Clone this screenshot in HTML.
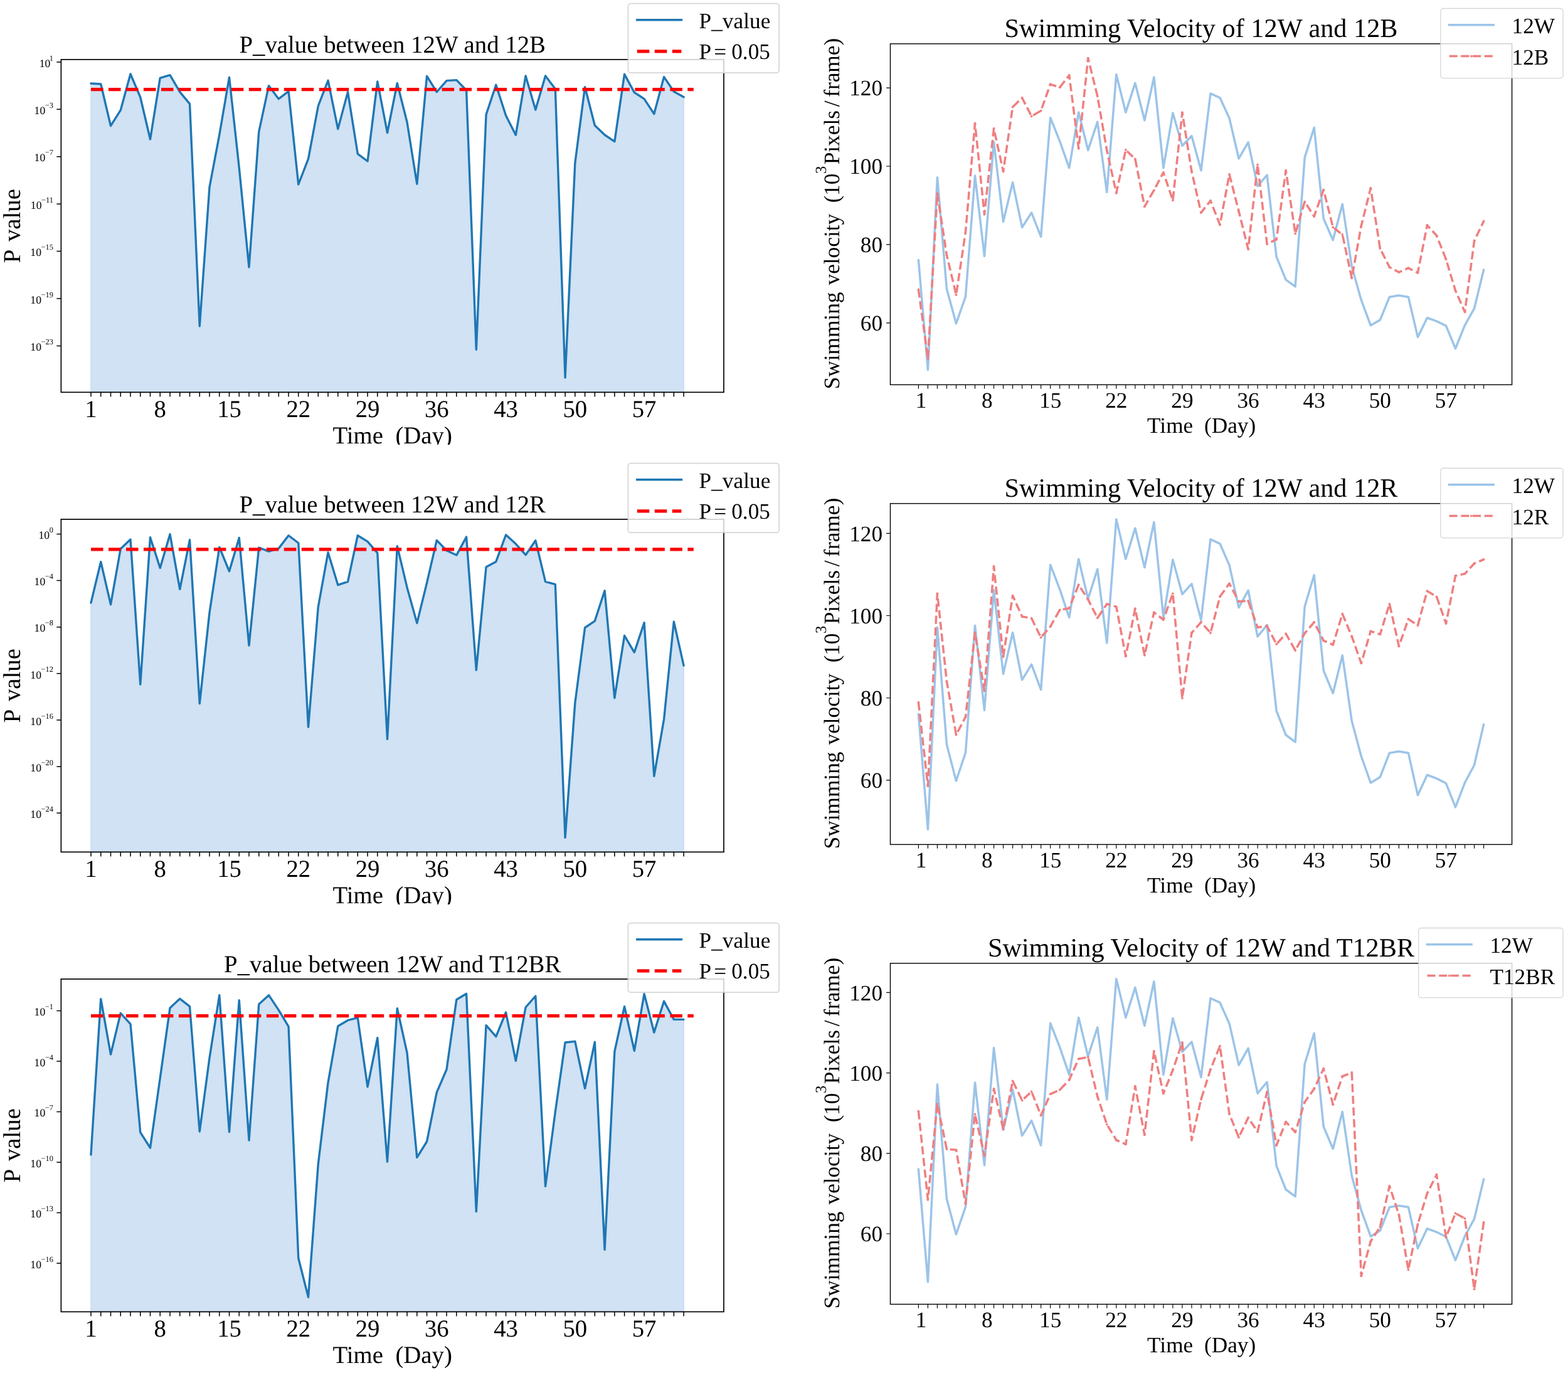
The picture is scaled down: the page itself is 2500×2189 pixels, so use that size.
<!DOCTYPE html>
<html lang="en"><head><meta charset="utf-8"><title>P value and swimming velocity</title>
<style>
html,body{margin:0;padding:0;background:#fff}
body{width:2500px;height:2189px;overflow:hidden}
svg{display:block}
svg text{font-family:"Liberation Serif", serif;fill:#000;text-rendering:geometricPrecision}
</style></head>
<body>
<svg width="2500" height="2189" viewBox="0 0 2500 2189">
<rect width="2500" height="2189" fill="#fff"/>
<g id="L0">
<polygon points="145,625.4 145,133 160.75,134 176.5,200.67 192.26,175.67 208.01,118 223.76,155 239.51,222 255.26,124.33 271.02,119.67 286.77,146.67 302.52,165.67 318.27,520 334.02,298.33 349.78,215 365.53,123.33 381.28,267.33 397.03,426 412.78,210 428.54,136.67 444.29,157.67 460.04,145.67 475.79,294 491.54,253.33 507.3,169 523.05,128.33 538.8,205.67 554.55,146.67 570.3,245.33 586.06,257 601.81,130 617.56,211.67 633.31,132.67 649.06,195 664.82,293.33 680.57,121.33 696.32,146.67 712.07,128.67 727.82,127.67 743.58,144 759.33,557.33 775.08,182.67 790.83,135.33 806.58,184.33 822.34,215.33 838.09,121 853.84,175 869.59,121 885.34,141.67 901.1,602 916.85,260 932.6,138.67 948.35,200 964.1,215 979.86,225.67 995.61,118.33 1011.36,147.33 1027.11,157.67 1042.86,181.67 1058.62,122.67 1074.37,146 1090.12,154.67 1090.12,625.4" fill="#d0e2f4" stroke="#c8dcf4" stroke-width="1.6"/>
<polyline points="145,133 160.75,134 176.5,200.67 192.26,175.67 208.01,118 223.76,155 239.51,222 255.26,124.33 271.02,119.67 286.77,146.67 302.52,165.67 318.27,520 334.02,298.33 349.78,215 365.53,123.33 381.28,267.33 397.03,426 412.78,210 428.54,136.67 444.29,157.67 460.04,145.67 475.79,294 491.54,253.33 507.3,169 523.05,128.33 538.8,205.67 554.55,146.67 570.3,245.33 586.06,257 601.81,130 617.56,211.67 633.31,132.67 649.06,195 664.82,293.33 680.57,121.33 696.32,146.67 712.07,128.67 727.82,127.67 743.58,144 759.33,557.33 775.08,182.67 790.83,135.33 806.58,184.33 822.34,215.33 838.09,121 853.84,175 869.59,121 885.34,141.67 901.1,602 916.85,260 932.6,138.67 948.35,200 964.1,215 979.86,225.67 995.61,118.33 1011.36,147.33 1027.11,157.67 1042.86,181.67 1058.62,122.67 1074.37,146 1090.12,154.67" fill="none" stroke="#1f77b4" stroke-width="3.4" stroke-linejoin="round" stroke-linecap="round"/>
<path d="M145 142.6H1105.87" stroke="#fa0506" stroke-width="5.3" stroke-dasharray="19.55 8.43" fill="none"/>
<rect x="97.4" y="94.9" width="1056.6" height="530.5" fill="none" stroke="#000" stroke-width="1.7"/>
<path d="M145 625.4v7.05M160.75 625.4v7.05M176.5 625.4v7.05M192.26 625.4v7.05M208.01 625.4v7.05M223.76 625.4v7.05M239.51 625.4v7.05M255.26 625.4v7.05M271.02 625.4v7.05M286.77 625.4v7.05M302.52 625.4v7.05M318.27 625.4v7.05M334.02 625.4v7.05M349.78 625.4v7.05M365.53 625.4v7.05M381.28 625.4v7.05M397.03 625.4v7.05M412.78 625.4v7.05M428.54 625.4v7.05M444.29 625.4v7.05M460.04 625.4v7.05M475.79 625.4v7.05M491.54 625.4v7.05M507.3 625.4v7.05M523.05 625.4v7.05M538.8 625.4v7.05M554.55 625.4v7.05M570.3 625.4v7.05M586.06 625.4v7.05M601.81 625.4v7.05M617.56 625.4v7.05M633.31 625.4v7.05M649.06 625.4v7.05M664.82 625.4v7.05M680.57 625.4v7.05M696.32 625.4v7.05M712.07 625.4v7.05M727.82 625.4v7.05M743.58 625.4v7.05M759.33 625.4v7.05M775.08 625.4v7.05M790.83 625.4v7.05M806.58 625.4v7.05M822.34 625.4v7.05M838.09 625.4v7.05M853.84 625.4v7.05M869.59 625.4v7.05M885.34 625.4v7.05M901.1 625.4v7.05M916.85 625.4v7.05M932.6 625.4v7.05M948.35 625.4v7.05M964.1 625.4v7.05M979.86 625.4v7.05M995.61 625.4v7.05M1011.36 625.4v7.05M1027.11 625.4v7.05M1042.86 625.4v7.05M1058.62 625.4v7.05M1074.37 625.4v7.05M1090.12 625.4v7.05" stroke="#000" stroke-width="1.5" fill="none"/>
<text x="145" y="664.8" font-size="38.8" text-anchor="middle" >1</text>
<text x="255.26" y="664.8" font-size="38.8" text-anchor="middle" >8</text>
<text x="365.53" y="664.8" font-size="38.8" text-anchor="middle" >15</text>
<text x="475.79" y="664.8" font-size="38.8" text-anchor="middle" >22</text>
<text x="586.06" y="664.8" font-size="38.8" text-anchor="middle" >29</text>
<text x="696.32" y="664.8" font-size="38.8" text-anchor="middle" >36</text>
<text x="806.58" y="664.8" font-size="38.8" text-anchor="middle" >43</text>
<text x="916.85" y="664.8" font-size="38.8" text-anchor="middle" >50</text>
<text x="1027.11" y="664.8" font-size="38.8" text-anchor="middle" >57</text>
<path d="M97.4 99.1h-7.05M97.4 174.3h-7.05M97.4 249.7h-7.05M97.4 325.2h-7.05M97.4 400.6h-7.05M97.4 476h-7.05M97.4 551.4h-7.05" stroke="#000" stroke-width="1.5" fill="none"/>
<text x="85.0" y="106.8" font-size="17.65" text-anchor="end">10<tspan dy="-10.1" dx="-1.5" font-size="12.4">1</tspan></text>
<text x="85.0" y="182" font-size="17.65" text-anchor="end">10<tspan dy="-10.1" dx="-0.4" font-size="12.4">−3</tspan></text>
<text x="85.0" y="257.4" font-size="17.65" text-anchor="end">10<tspan dy="-10.1" dx="-0.4" font-size="12.4">−7</tspan></text>
<text x="85.0" y="332.9" font-size="17.65" text-anchor="end">10<tspan dy="-10.1" dx="-0.4" font-size="12.4">−11</tspan></text>
<text x="85.0" y="408.3" font-size="17.65" text-anchor="end">10<tspan dy="-10.1" dx="-0.4" font-size="12.4">−15</tspan></text>
<text x="85.0" y="483.7" font-size="17.65" text-anchor="end">10<tspan dy="-10.1" dx="-0.4" font-size="12.4">−19</tspan></text>
<text x="85.0" y="559.1" font-size="17.65" text-anchor="end">10<tspan dy="-10.1" dx="-0.4" font-size="12.4">−23</tspan></text>
<text x="625.7" y="83.6" font-size="38.8" text-anchor="middle" >P_value between 12W and 12B</text>
<clipPath id="clipL0"><rect x="0" y="0" width="1260" height="708.9"/></clipPath>
<g clip-path="url(#clipL0)">
<text x="625.7" y="707.2" font-size="38.8" text-anchor="middle" xml:space="preserve">Time  (Day)</text>
</g>
<text transform="translate(32.2 360.15) rotate(-90)" font-size="38.8" text-anchor="middle" word-spacing="4.3">P value</text>
<rect x="1001.4" y="5.6" width="240.8" height="110.6" rx="4.5" ry="4.5" fill="#fff" fill-opacity="0.8" stroke="#ccc" stroke-opacity="0.8" stroke-width="1.8"/>
<path d="M1015.8 31.7H1086.4" stroke="#1f77b4" stroke-width="3.53" stroke-linecap="square" fill="none"/>
<path d="M1015.8 81.8H1086.4" stroke="#fa0506" stroke-width="5.3" stroke-dasharray="19.55 8.43" fill="none"/>
<text x="1114.6" y="44.7" font-size="35.3">P_value</text>
<text x="1114.6" y="94.1" font-size="35.3" xml:space="preserve">P <tspan dx="-3.4">=</tspan> <tspan dx="-0.9">0.05</tspan></text>
</g>
<g id="L1">
<polygon points="145,1358.4 145,961.07 160.75,895.73 176.5,963.73 192.26,875.07 208.01,860.07 223.76,1091.07 239.51,856.73 255.26,905.4 271.02,851.73 286.77,939.4 302.52,860.73 318.27,1121.73 334.02,976.73 349.78,872.4 365.53,910.73 381.28,857.4 397.03,1029.07 412.78,873.07 428.54,879.07 444.29,874.4 460.04,853.73 475.79,865.73 491.54,1159.07 507.3,967.73 523.05,880.73 538.8,932.73 554.55,927.4 570.3,853.73 586.06,863.4 601.81,881.73 617.56,1178.4 633.31,870.73 649.06,936.73 664.82,993.4 680.57,929.4 696.32,861.4 712.07,877.73 727.82,885.07 743.58,856.07 759.33,1068.4 775.08,904.07 790.83,895.4 806.58,852.73 822.34,867.07 838.09,884.73 853.84,861.73 869.59,927.4 885.34,931.73 901.1,1335.4 916.85,1120.73 932.6,1000.73 948.35,990.07 964.1,941.73 979.86,1112.73 995.61,1013.4 1011.36,1040.07 1027.11,992.73 1042.86,1237.4 1058.62,1146.73 1074.37,991.07 1090.12,1061.07 1090.12,1358.4" fill="#d0e2f4" stroke="#c8dcf4" stroke-width="1.6"/>
<polyline points="145,961.07 160.75,895.73 176.5,963.73 192.26,875.07 208.01,860.07 223.76,1091.07 239.51,856.73 255.26,905.4 271.02,851.73 286.77,939.4 302.52,860.73 318.27,1121.73 334.02,976.73 349.78,872.4 365.53,910.73 381.28,857.4 397.03,1029.07 412.78,873.07 428.54,879.07 444.29,874.4 460.04,853.73 475.79,865.73 491.54,1159.07 507.3,967.73 523.05,880.73 538.8,932.73 554.55,927.4 570.3,853.73 586.06,863.4 601.81,881.73 617.56,1178.4 633.31,870.73 649.06,936.73 664.82,993.4 680.57,929.4 696.32,861.4 712.07,877.73 727.82,885.07 743.58,856.07 759.33,1068.4 775.08,904.07 790.83,895.4 806.58,852.73 822.34,867.07 838.09,884.73 853.84,861.73 869.59,927.4 885.34,931.73 901.1,1335.4 916.85,1120.73 932.6,1000.73 948.35,990.07 964.1,941.73 979.86,1112.73 995.61,1013.4 1011.36,1040.07 1027.11,992.73 1042.86,1237.4 1058.62,1146.73 1074.37,991.07 1090.12,1061.07" fill="none" stroke="#1f77b4" stroke-width="3.4" stroke-linejoin="round" stroke-linecap="round"/>
<path d="M145 875.9H1105.87" stroke="#fa0506" stroke-width="5.3" stroke-dasharray="19.55 8.43" fill="none"/>
<rect x="97.4" y="827.9" width="1056.6" height="530.5" fill="none" stroke="#000" stroke-width="1.7"/>
<path d="M145 1358.4v7.05M160.75 1358.4v7.05M176.5 1358.4v7.05M192.26 1358.4v7.05M208.01 1358.4v7.05M223.76 1358.4v7.05M239.51 1358.4v7.05M255.26 1358.4v7.05M271.02 1358.4v7.05M286.77 1358.4v7.05M302.52 1358.4v7.05M318.27 1358.4v7.05M334.02 1358.4v7.05M349.78 1358.4v7.05M365.53 1358.4v7.05M381.28 1358.4v7.05M397.03 1358.4v7.05M412.78 1358.4v7.05M428.54 1358.4v7.05M444.29 1358.4v7.05M460.04 1358.4v7.05M475.79 1358.4v7.05M491.54 1358.4v7.05M507.3 1358.4v7.05M523.05 1358.4v7.05M538.8 1358.4v7.05M554.55 1358.4v7.05M570.3 1358.4v7.05M586.06 1358.4v7.05M601.81 1358.4v7.05M617.56 1358.4v7.05M633.31 1358.4v7.05M649.06 1358.4v7.05M664.82 1358.4v7.05M680.57 1358.4v7.05M696.32 1358.4v7.05M712.07 1358.4v7.05M727.82 1358.4v7.05M743.58 1358.4v7.05M759.33 1358.4v7.05M775.08 1358.4v7.05M790.83 1358.4v7.05M806.58 1358.4v7.05M822.34 1358.4v7.05M838.09 1358.4v7.05M853.84 1358.4v7.05M869.59 1358.4v7.05M885.34 1358.4v7.05M901.1 1358.4v7.05M916.85 1358.4v7.05M932.6 1358.4v7.05M948.35 1358.4v7.05M964.1 1358.4v7.05M979.86 1358.4v7.05M995.61 1358.4v7.05M1011.36 1358.4v7.05M1027.11 1358.4v7.05M1042.86 1358.4v7.05M1058.62 1358.4v7.05M1074.37 1358.4v7.05M1090.12 1358.4v7.05" stroke="#000" stroke-width="1.5" fill="none"/>
<text x="145" y="1397.8" font-size="38.8" text-anchor="middle" >1</text>
<text x="255.26" y="1397.8" font-size="38.8" text-anchor="middle" >8</text>
<text x="365.53" y="1397.8" font-size="38.8" text-anchor="middle" >15</text>
<text x="475.79" y="1397.8" font-size="38.8" text-anchor="middle" >22</text>
<text x="586.06" y="1397.8" font-size="38.8" text-anchor="middle" >29</text>
<text x="696.32" y="1397.8" font-size="38.8" text-anchor="middle" >36</text>
<text x="806.58" y="1397.8" font-size="38.8" text-anchor="middle" >43</text>
<text x="916.85" y="1397.8" font-size="38.8" text-anchor="middle" >50</text>
<text x="1027.11" y="1397.8" font-size="38.8" text-anchor="middle" >57</text>
<path d="M97.4 851.4h-7.05M97.4 925.55h-7.05M97.4 999.7h-7.05M97.4 1073.85h-7.05M97.4 1148h-7.05M97.4 1222.15h-7.05M97.4 1296.3h-7.05" stroke="#000" stroke-width="1.5" fill="none"/>
<text x="85.0" y="859.1" font-size="17.65" text-anchor="end">10<tspan dy="-10.1" dx="-0.4" font-size="12.4">0</tspan></text>
<text x="85.0" y="933.25" font-size="17.65" text-anchor="end">10<tspan dy="-10.1" dx="-0.4" font-size="12.4">−4</tspan></text>
<text x="85.0" y="1007.4" font-size="17.65" text-anchor="end">10<tspan dy="-10.1" dx="-0.4" font-size="12.4">−8</tspan></text>
<text x="85.0" y="1081.55" font-size="17.65" text-anchor="end">10<tspan dy="-10.1" dx="-0.4" font-size="12.4">−12</tspan></text>
<text x="85.0" y="1155.7" font-size="17.65" text-anchor="end">10<tspan dy="-10.1" dx="-0.4" font-size="12.4">−16</tspan></text>
<text x="85.0" y="1229.85" font-size="17.65" text-anchor="end">10<tspan dy="-10.1" dx="-0.4" font-size="12.4">−20</tspan></text>
<text x="85.0" y="1304" font-size="17.65" text-anchor="end">10<tspan dy="-10.1" dx="-0.4" font-size="12.4">−24</tspan></text>
<text x="625.7" y="816.6" font-size="38.8" text-anchor="middle" >P_value between 12W and 12R</text>
<clipPath id="clipL1"><rect x="0" y="733" width="1260" height="708.9"/></clipPath>
<g clip-path="url(#clipL1)">
<text x="625.7" y="1440.2" font-size="38.8" text-anchor="middle" xml:space="preserve">Time  (Day)</text>
</g>
<text transform="translate(32.2 1093.15) rotate(-90)" font-size="38.8" text-anchor="middle" word-spacing="4.3">P value</text>
<rect x="1001.4" y="738.6" width="240.8" height="110.6" rx="4.5" ry="4.5" fill="#fff" fill-opacity="0.8" stroke="#ccc" stroke-opacity="0.8" stroke-width="1.8"/>
<path d="M1015.8 764.7H1086.4" stroke="#1f77b4" stroke-width="3.53" stroke-linecap="square" fill="none"/>
<path d="M1015.8 814.8H1086.4" stroke="#fa0506" stroke-width="5.3" stroke-dasharray="19.55 8.43" fill="none"/>
<text x="1114.6" y="777.7" font-size="35.3">P_value</text>
<text x="1114.6" y="827.1" font-size="35.3" xml:space="preserve">P <tspan dx="-3.4">=</tspan> <tspan dx="-0.9">0.05</tspan></text>
</g>
<g id="L2">
<polygon points="145,2091.4 145,1841 160.75,1592.67 176.5,1681 192.26,1615.33 208.01,1632.67 223.76,1805.33 239.51,1830 255.26,1718.67 271.02,1607 286.77,1592.33 302.52,1604.67 318.27,1804 334.02,1686.67 349.78,1586.67 365.53,1804.67 381.28,1594.67 397.03,1818 412.78,1601 428.54,1586.67 444.29,1610.33 460.04,1636.67 475.79,2006 491.54,2068 507.3,1856 523.05,1726 538.8,1636 554.55,1626.67 570.3,1622.67 586.06,1732.67 601.81,1654.67 617.56,1852 633.31,1607.67 649.06,1678.67 664.82,1845.33 680.57,1820 696.32,1741.67 712.07,1705 727.82,1593.67 743.58,1584.33 759.33,1931.67 775.08,1634.67 790.83,1652.67 806.58,1614 822.34,1691.33 838.09,1606 853.84,1588 869.59,1891.33 885.34,1772.67 901.1,1662 916.85,1660.33 932.6,1735.33 948.35,1661.33 964.1,1992.33 979.86,1676.67 995.61,1604.67 1011.36,1675.33 1027.11,1584.67 1042.86,1646 1058.62,1596.33 1074.37,1625.33 1090.12,1625.33 1090.12,2091.4" fill="#d0e2f4" stroke="#c8dcf4" stroke-width="1.6"/>
<polyline points="145,1841 160.75,1592.67 176.5,1681 192.26,1615.33 208.01,1632.67 223.76,1805.33 239.51,1830 255.26,1718.67 271.02,1607 286.77,1592.33 302.52,1604.67 318.27,1804 334.02,1686.67 349.78,1586.67 365.53,1804.67 381.28,1594.67 397.03,1818 412.78,1601 428.54,1586.67 444.29,1610.33 460.04,1636.67 475.79,2006 491.54,2068 507.3,1856 523.05,1726 538.8,1636 554.55,1626.67 570.3,1622.67 586.06,1732.67 601.81,1654.67 617.56,1852 633.31,1607.67 649.06,1678.67 664.82,1845.33 680.57,1820 696.32,1741.67 712.07,1705 727.82,1593.67 743.58,1584.33 759.33,1931.67 775.08,1634.67 790.83,1652.67 806.58,1614 822.34,1691.33 838.09,1606 853.84,1588 869.59,1891.33 885.34,1772.67 901.1,1662 916.85,1660.33 932.6,1735.33 948.35,1661.33 964.1,1992.33 979.86,1676.67 995.61,1604.67 1011.36,1675.33 1027.11,1584.67 1042.86,1646 1058.62,1596.33 1074.37,1625.33 1090.12,1625.33" fill="none" stroke="#1f77b4" stroke-width="3.4" stroke-linejoin="round" stroke-linecap="round"/>
<path d="M145 1619.7H1105.87" stroke="#fa0506" stroke-width="5.3" stroke-dasharray="19.55 8.43" fill="none"/>
<rect x="97.4" y="1560.9" width="1056.6" height="530.5" fill="none" stroke="#000" stroke-width="1.7"/>
<path d="M145 2091.4v7.05M160.75 2091.4v7.05M176.5 2091.4v7.05M192.26 2091.4v7.05M208.01 2091.4v7.05M223.76 2091.4v7.05M239.51 2091.4v7.05M255.26 2091.4v7.05M271.02 2091.4v7.05M286.77 2091.4v7.05M302.52 2091.4v7.05M318.27 2091.4v7.05M334.02 2091.4v7.05M349.78 2091.4v7.05M365.53 2091.4v7.05M381.28 2091.4v7.05M397.03 2091.4v7.05M412.78 2091.4v7.05M428.54 2091.4v7.05M444.29 2091.4v7.05M460.04 2091.4v7.05M475.79 2091.4v7.05M491.54 2091.4v7.05M507.3 2091.4v7.05M523.05 2091.4v7.05M538.8 2091.4v7.05M554.55 2091.4v7.05M570.3 2091.4v7.05M586.06 2091.4v7.05M601.81 2091.4v7.05M617.56 2091.4v7.05M633.31 2091.4v7.05M649.06 2091.4v7.05M664.82 2091.4v7.05M680.57 2091.4v7.05M696.32 2091.4v7.05M712.07 2091.4v7.05M727.82 2091.4v7.05M743.58 2091.4v7.05M759.33 2091.4v7.05M775.08 2091.4v7.05M790.83 2091.4v7.05M806.58 2091.4v7.05M822.34 2091.4v7.05M838.09 2091.4v7.05M853.84 2091.4v7.05M869.59 2091.4v7.05M885.34 2091.4v7.05M901.1 2091.4v7.05M916.85 2091.4v7.05M932.6 2091.4v7.05M948.35 2091.4v7.05M964.1 2091.4v7.05M979.86 2091.4v7.05M995.61 2091.4v7.05M1011.36 2091.4v7.05M1027.11 2091.4v7.05M1042.86 2091.4v7.05M1058.62 2091.4v7.05M1074.37 2091.4v7.05M1090.12 2091.4v7.05" stroke="#000" stroke-width="1.5" fill="none"/>
<text x="145" y="2130.8" font-size="38.8" text-anchor="middle" >1</text>
<text x="255.26" y="2130.8" font-size="38.8" text-anchor="middle" >8</text>
<text x="365.53" y="2130.8" font-size="38.8" text-anchor="middle" >15</text>
<text x="475.79" y="2130.8" font-size="38.8" text-anchor="middle" >22</text>
<text x="586.06" y="2130.8" font-size="38.8" text-anchor="middle" >29</text>
<text x="696.32" y="2130.8" font-size="38.8" text-anchor="middle" >36</text>
<text x="806.58" y="2130.8" font-size="38.8" text-anchor="middle" >43</text>
<text x="916.85" y="2130.8" font-size="38.8" text-anchor="middle" >50</text>
<text x="1027.11" y="2130.8" font-size="38.8" text-anchor="middle" >57</text>
<path d="M97.4 1611.4h-7.05M97.4 1691.92h-7.05M97.4 1772.44h-7.05M97.4 1852.96h-7.05M97.4 1933.48h-7.05M97.4 2014h-7.05" stroke="#000" stroke-width="1.5" fill="none"/>
<text x="85.0" y="1619.1" font-size="17.65" text-anchor="end">10<tspan dy="-10.1" dx="-0.4" font-size="12.4">−1</tspan></text>
<text x="85.0" y="1699.62" font-size="17.65" text-anchor="end">10<tspan dy="-10.1" dx="-0.4" font-size="12.4">−4</tspan></text>
<text x="85.0" y="1780.14" font-size="17.65" text-anchor="end">10<tspan dy="-10.1" dx="-0.4" font-size="12.4">−7</tspan></text>
<text x="85.0" y="1860.66" font-size="17.65" text-anchor="end">10<tspan dy="-10.1" dx="-0.4" font-size="12.4">−10</tspan></text>
<text x="85.0" y="1941.18" font-size="17.65" text-anchor="end">10<tspan dy="-10.1" dx="-0.4" font-size="12.4">−13</tspan></text>
<text x="85.0" y="2021.7" font-size="17.65" text-anchor="end">10<tspan dy="-10.1" dx="-0.4" font-size="12.4">−16</tspan></text>
<text x="625.7" y="1549.6" font-size="38.8" text-anchor="middle" >P_value between 12W and T12BR</text>
<g >
<text x="625.7" y="2173.2" font-size="38.8" text-anchor="middle" xml:space="preserve">Time  (Day)</text>
</g>
<text transform="translate(32.2 1826.15) rotate(-90)" font-size="38.8" text-anchor="middle" word-spacing="4.3">P value</text>
<rect x="1001.4" y="1471.6" width="240.8" height="110.6" rx="4.5" ry="4.5" fill="#fff" fill-opacity="0.8" stroke="#ccc" stroke-opacity="0.8" stroke-width="1.8"/>
<path d="M1015.8 1497.7H1086.4" stroke="#1f77b4" stroke-width="3.53" stroke-linecap="square" fill="none"/>
<path d="M1015.8 1547.8H1086.4" stroke="#fa0506" stroke-width="5.3" stroke-dasharray="19.55 8.43" fill="none"/>
<text x="1114.6" y="1510.7" font-size="35.3">P_value</text>
<text x="1114.6" y="1560.1" font-size="35.3" xml:space="preserve">P <tspan dx="-3.4">=</tspan> <tspan dx="-0.9">0.05</tspan></text>
</g>
<g id="R0">
<polyline points="1464.4,414.43 1479.42,589.43 1494.44,282.77 1509.46,460.77 1524.48,515.77 1539.5,472.77 1554.52,280.1 1569.54,408.43 1584.56,226.1 1599.58,353.43 1614.6,290.77 1629.62,362.43 1644.64,339.1 1659.66,377.43 1674.68,187.77 1689.7,225.1 1704.72,267.77 1719.74,179.1 1734.76,239.43 1749.78,194.43 1764.8,306.43 1779.82,118.77 1794.84,179.1 1809.86,132.43 1824.88,191.77 1839.9,123.1 1854.92,267.77 1869.94,180.1 1884.96,232.43 1899.98,216.77 1915,271.77 1930.02,149.1 1945.04,155.77 1960.06,188.43 1975.08,252.77 1990.1,226.77 2005.12,296.77 2020.14,279.1 2035.16,409.43 2050.18,446.1 2065.2,456.77 2080.22,251.1 2095.24,203.43 2110.26,348.43 2125.28,382.77 2140.3,325.43 2155.32,425.1 2170.34,478.43 2185.36,518.77 2200.38,510.1 2215.4,473.43 2230.42,471.1 2245.44,473.43 2260.46,537.43 2275.48,506.77 2290.5,512.1 2305.52,519.43 2320.54,555.77 2335.56,518.43 2350.58,491.77 2365.6,430.1" fill="none" stroke="#9cc4e8" stroke-width="3.53" stroke-linejoin="round" stroke-linecap="round"/>
<polyline points="1464.4,461.67 1479.42,571.67 1494.44,308.33 1509.46,406.67 1524.48,470 1539.5,370 1554.52,196.67 1569.54,341.67 1584.56,205 1599.58,273.33 1614.6,170.67 1629.62,156 1644.64,185.33 1659.66,176.67 1674.68,134.33 1689.7,139.33 1704.72,120 1719.74,236.67 1734.76,92.67 1749.78,153.33 1764.8,240 1779.82,307.67 1794.84,239 1809.86,253.33 1824.88,329.33 1839.9,303.33 1854.92,275 1869.94,319.33 1884.96,179.33 1899.98,273.33 1915,339 1930.02,320 1945.04,358.33 1960.06,278 1975.08,336.67 1990.1,397.33 2005.12,262.67 2020.14,389 2035.16,381.67 2050.18,271.67 2065.2,372.33 2080.22,321.67 2095.24,345 2110.26,302.67 2125.28,362.33 2140.3,374 2155.32,443.33 2170.34,360 2185.36,300 2200.38,396 2215.4,426 2230.42,434 2245.44,427.33 2260.46,435 2275.48,359 2290.5,375.67 2305.52,413.33 2320.54,463.33 2335.56,497.33 2350.58,384 2365.6,352.67" fill="none" stroke="#ef7f80" stroke-width="3.53" stroke-dasharray="13.06 5.65" stroke-linejoin="round"/>
<g fill="#ef7f80"><circle cx="1464.4" cy="461.67" r="1.9"/><circle cx="1479.42" cy="571.67" r="1.9"/><circle cx="1494.44" cy="308.33" r="1.9"/><circle cx="1509.46" cy="406.67" r="1.9"/><circle cx="1524.48" cy="470" r="1.9"/><circle cx="1539.5" cy="370" r="1.9"/><circle cx="1554.52" cy="196.67" r="1.9"/><circle cx="1569.54" cy="341.67" r="1.9"/><circle cx="1584.56" cy="205" r="1.9"/><circle cx="1599.58" cy="273.33" r="1.9"/><circle cx="1614.6" cy="170.67" r="1.9"/><circle cx="1629.62" cy="156" r="1.9"/><circle cx="1644.64" cy="185.33" r="1.9"/><circle cx="1659.66" cy="176.67" r="1.9"/><circle cx="1674.68" cy="134.33" r="1.9"/><circle cx="1689.7" cy="139.33" r="1.9"/><circle cx="1704.72" cy="120" r="1.9"/><circle cx="1719.74" cy="236.67" r="1.9"/><circle cx="1734.76" cy="92.67" r="1.9"/><circle cx="1749.78" cy="153.33" r="1.9"/><circle cx="1764.8" cy="240" r="1.9"/><circle cx="1779.82" cy="307.67" r="1.9"/><circle cx="1794.84" cy="239" r="1.9"/><circle cx="1809.86" cy="253.33" r="1.9"/><circle cx="1824.88" cy="329.33" r="1.9"/><circle cx="1839.9" cy="303.33" r="1.9"/><circle cx="1854.92" cy="275" r="1.9"/><circle cx="1869.94" cy="319.33" r="1.9"/><circle cx="1884.96" cy="179.33" r="1.9"/><circle cx="1899.98" cy="273.33" r="1.9"/><circle cx="1915" cy="339" r="1.9"/><circle cx="1930.02" cy="320" r="1.9"/><circle cx="1945.04" cy="358.33" r="1.9"/><circle cx="1960.06" cy="278" r="1.9"/><circle cx="1975.08" cy="336.67" r="1.9"/><circle cx="1990.1" cy="397.33" r="1.9"/><circle cx="2005.12" cy="262.67" r="1.9"/><circle cx="2020.14" cy="389" r="1.9"/><circle cx="2035.16" cy="381.67" r="1.9"/><circle cx="2050.18" cy="271.67" r="1.9"/><circle cx="2065.2" cy="372.33" r="1.9"/><circle cx="2080.22" cy="321.67" r="1.9"/><circle cx="2095.24" cy="345" r="1.9"/><circle cx="2110.26" cy="302.67" r="1.9"/><circle cx="2125.28" cy="362.33" r="1.9"/><circle cx="2140.3" cy="374" r="1.9"/><circle cx="2155.32" cy="443.33" r="1.9"/><circle cx="2170.34" cy="360" r="1.9"/><circle cx="2185.36" cy="300" r="1.9"/><circle cx="2200.38" cy="396" r="1.9"/><circle cx="2215.4" cy="426" r="1.9"/><circle cx="2230.42" cy="434" r="1.9"/><circle cx="2245.44" cy="427.33" r="1.9"/><circle cx="2260.46" cy="435" r="1.9"/><circle cx="2275.48" cy="359" r="1.9"/><circle cx="2290.5" cy="375.67" r="1.9"/><circle cx="2305.52" cy="413.33" r="1.9"/><circle cx="2320.54" cy="463.33" r="1.9"/><circle cx="2335.56" cy="497.33" r="1.9"/><circle cx="2350.58" cy="384" r="1.9"/><circle cx="2365.6" cy="352.67" r="1.9"/></g>
<rect x="1419.5" y="69.8" width="991.1" height="543.6" fill="none" stroke="#000" stroke-width="1.4"/>
<path d="M1464.4 613.4v6.4M1479.42 613.4v6.4M1494.44 613.4v6.4M1509.46 613.4v6.4M1524.48 613.4v6.4M1539.5 613.4v6.4M1554.52 613.4v6.4M1569.54 613.4v6.4M1584.56 613.4v6.4M1599.58 613.4v6.4M1614.6 613.4v6.4M1629.62 613.4v6.4M1644.64 613.4v6.4M1659.66 613.4v6.4M1674.68 613.4v6.4M1689.7 613.4v6.4M1704.72 613.4v6.4M1719.74 613.4v6.4M1734.76 613.4v6.4M1749.78 613.4v6.4M1764.8 613.4v6.4M1779.82 613.4v6.4M1794.84 613.4v6.4M1809.86 613.4v6.4M1824.88 613.4v6.4M1839.9 613.4v6.4M1854.92 613.4v6.4M1869.94 613.4v6.4M1884.96 613.4v6.4M1899.98 613.4v6.4M1915 613.4v6.4M1930.02 613.4v6.4M1945.04 613.4v6.4M1960.06 613.4v6.4M1975.08 613.4v6.4M1990.1 613.4v6.4M2005.12 613.4v6.4M2020.14 613.4v6.4M2035.16 613.4v6.4M2050.18 613.4v6.4M2065.2 613.4v6.4M2080.22 613.4v6.4M2095.24 613.4v6.4M2110.26 613.4v6.4M2125.28 613.4v6.4M2140.3 613.4v6.4M2155.32 613.4v6.4M2170.34 613.4v6.4M2185.36 613.4v6.4M2200.38 613.4v6.4M2215.4 613.4v6.4M2230.42 613.4v6.4M2245.44 613.4v6.4M2260.46 613.4v6.4M2275.48 613.4v6.4M2290.5 613.4v6.4M2305.52 613.4v6.4M2320.54 613.4v6.4M2335.56 613.4v6.4M2350.58 613.4v6.4M2365.6 613.4v6.4" stroke="#000" stroke-width="1.15" fill="none"/>
<text x="1468.6" y="650.1" font-size="35.3" text-anchor="middle" >1</text>
<text x="1573.74" y="650.1" font-size="35.3" text-anchor="middle" >8</text>
<text x="1674.68" y="650.1" font-size="35.3" text-anchor="middle" >15</text>
<text x="1779.82" y="650.1" font-size="35.3" text-anchor="middle" >22</text>
<text x="1884.96" y="650.1" font-size="35.3" text-anchor="middle" >29</text>
<text x="1990.1" y="650.1" font-size="35.3" text-anchor="middle" >36</text>
<text x="2095.24" y="650.1" font-size="35.3" text-anchor="middle" >43</text>
<text x="2200.38" y="650.1" font-size="35.3" text-anchor="middle" >50</text>
<text x="2305.52" y="650.1" font-size="35.3" text-anchor="middle" >57</text>
<path d="M1419.5 140.1h-6.4M1419.5 265h-6.4M1419.5 389.9h-6.4M1419.5 514.8h-6.4" stroke="#000" stroke-width="1.15" fill="none"/>
<text x="1407.1" y="152.4" font-size="35.3" text-anchor="end" >120</text>
<text x="1407.1" y="277.3" font-size="35.3" text-anchor="end" >100</text>
<text x="1407.1" y="402.2" font-size="35.3" text-anchor="end" >80</text>
<text x="1407.1" y="527.1" font-size="35.3" text-anchor="end" >60</text>
<text x="1915.05" y="58.6" font-size="42.3" text-anchor="middle" >Swimming Velocity of 12W and 12B</text>
<text x="1915.65" y="690.1" font-size="35.3" text-anchor="middle" xml:space="preserve">Time  (Day)</text>
<text transform="translate(1338.4 622.76) rotate(-90)" font-size="35.3" xml:space="preserve" style="font-kerning:none"><tspan x="2.3">Swimming </tspan><tspan x="168.26">velocity  </tspan><tspan x="299.61">(</tspan><tspan x="310.86">10</tspan><tspan x="345.76" dy="-21.7" font-size="24.7">3</tspan><tspan x="360.41" dy="21.7">Pixels </tspan><tspan x="452.42">/ </tspan><tspan x="467.96">frame)</tspan></text>
<rect x="2296.8" y="13.5" width="195.3" height="111.1" rx="4.5" ry="4.5" fill="#fff" fill-opacity="0.8" stroke="#ccc" stroke-opacity="0.8" stroke-width="1.3"/>
<path d="M2310.6 39.8H2381.2" stroke="#9cc4e8" stroke-width="3.53" stroke-linecap="square" fill="none"/>
<path d="M2310.6 89.6H2381.2" stroke="#ef7f80" stroke-width="3.53" stroke-dasharray="13.06 5.65" fill="none"/>
<circle cx="2345.9" cy="89.6" r="1.9" fill="#ef7f80"/>
<text x="2410.5" y="52.9" font-size="35.3">12W</text>
<text x="2410.5" y="102.6" font-size="35.3">12B</text>
</g>
<g id="R1">
<polyline points="1464.4,1138.5 1479.42,1322.33 1494.44,1000.2 1509.46,1187.17 1524.48,1244.95 1539.5,1199.78 1554.52,997.39 1569.54,1132.2 1584.56,940.67 1599.58,1074.43 1614.6,1008.6 1629.62,1083.88 1644.64,1059.37 1659.66,1099.64 1674.68,900.4 1689.7,939.62 1704.72,984.44 1719.74,891.3 1734.76,954.68 1749.78,907.41 1764.8,1025.06 1779.82,827.92 1794.84,891.3 1809.86,842.28 1824.88,904.61 1839.9,832.48 1854.92,984.44 1869.94,892.35 1884.96,947.32 1899.98,930.87 1915,988.64 1930.02,859.79 1945.04,866.79 1960.06,901.1 1975.08,968.68 1990.1,941.37 2005.12,1014.9 2020.14,996.34 2035.16,1133.25 2050.18,1171.77 2065.2,1182.97 2080.22,966.93 2095.24,916.86 2110.26,1069.18 2125.28,1105.24 2140.3,1045.01 2155.32,1149.71 2170.34,1205.73 2185.36,1248.1 2200.38,1239 2215.4,1200.48 2230.42,1198.03 2245.44,1200.48 2260.46,1267.71 2275.48,1235.49 2290.5,1241.1 2305.52,1248.8 2320.54,1286.97 2335.56,1247.75 2350.58,1219.74 2365.6,1154.96" fill="none" stroke="#9cc4e8" stroke-width="3.53" stroke-linejoin="round" stroke-linecap="round"/>
<polyline points="1464.4,1119.67 1479.42,1253 1494.44,946.33 1509.46,1086.33 1524.48,1171.33 1539.5,1143 1554.52,1009 1569.54,1101.33 1584.56,903 1599.58,1047 1614.6,949.67 1629.62,983 1644.64,985.67 1659.66,1016.33 1674.68,999 1689.7,972.33 1704.72,969.67 1719.74,932.33 1734.76,955.67 1749.78,985.33 1764.8,963 1779.82,967.33 1794.84,1046.33 1809.86,970.33 1824.88,1044.67 1839.9,976.33 1854.92,988 1869.94,946.33 1884.96,1113 1899.98,1009 1915,992 1930.02,1009 1945.04,951.33 1960.06,930.33 1975.08,959 1990.1,958 2005.12,1000.33 2020.14,998 2035.16,1027 2050.18,1010.33 2065.2,1037 2080.22,1009.67 2095.24,992 2110.26,1021.33 2125.28,1028 2140.3,978.67 2155.32,1014.67 2170.34,1057.33 2185.36,1006.33 2200.38,1011.33 2215.4,963 2230.42,1030.33 2245.44,987 2260.46,997 2275.48,942.33 2290.5,951.33 2305.52,994 2320.54,918 2335.56,914.67 2350.58,898.33 2365.6,892" fill="none" stroke="#ef7f80" stroke-width="3.53" stroke-dasharray="13.06 5.65" stroke-linejoin="round"/>
<g fill="#ef7f80"><circle cx="1464.4" cy="1119.67" r="1.9"/><circle cx="1479.42" cy="1253" r="1.9"/><circle cx="1494.44" cy="946.33" r="1.9"/><circle cx="1509.46" cy="1086.33" r="1.9"/><circle cx="1524.48" cy="1171.33" r="1.9"/><circle cx="1539.5" cy="1143" r="1.9"/><circle cx="1554.52" cy="1009" r="1.9"/><circle cx="1569.54" cy="1101.33" r="1.9"/><circle cx="1584.56" cy="903" r="1.9"/><circle cx="1599.58" cy="1047" r="1.9"/><circle cx="1614.6" cy="949.67" r="1.9"/><circle cx="1629.62" cy="983" r="1.9"/><circle cx="1644.64" cy="985.67" r="1.9"/><circle cx="1659.66" cy="1016.33" r="1.9"/><circle cx="1674.68" cy="999" r="1.9"/><circle cx="1689.7" cy="972.33" r="1.9"/><circle cx="1704.72" cy="969.67" r="1.9"/><circle cx="1719.74" cy="932.33" r="1.9"/><circle cx="1734.76" cy="955.67" r="1.9"/><circle cx="1749.78" cy="985.33" r="1.9"/><circle cx="1764.8" cy="963" r="1.9"/><circle cx="1779.82" cy="967.33" r="1.9"/><circle cx="1794.84" cy="1046.33" r="1.9"/><circle cx="1809.86" cy="970.33" r="1.9"/><circle cx="1824.88" cy="1044.67" r="1.9"/><circle cx="1839.9" cy="976.33" r="1.9"/><circle cx="1854.92" cy="988" r="1.9"/><circle cx="1869.94" cy="946.33" r="1.9"/><circle cx="1884.96" cy="1113" r="1.9"/><circle cx="1899.98" cy="1009" r="1.9"/><circle cx="1915" cy="992" r="1.9"/><circle cx="1930.02" cy="1009" r="1.9"/><circle cx="1945.04" cy="951.33" r="1.9"/><circle cx="1960.06" cy="930.33" r="1.9"/><circle cx="1975.08" cy="959" r="1.9"/><circle cx="1990.1" cy="958" r="1.9"/><circle cx="2005.12" cy="1000.33" r="1.9"/><circle cx="2020.14" cy="998" r="1.9"/><circle cx="2035.16" cy="1027" r="1.9"/><circle cx="2050.18" cy="1010.33" r="1.9"/><circle cx="2065.2" cy="1037" r="1.9"/><circle cx="2080.22" cy="1009.67" r="1.9"/><circle cx="2095.24" cy="992" r="1.9"/><circle cx="2110.26" cy="1021.33" r="1.9"/><circle cx="2125.28" cy="1028" r="1.9"/><circle cx="2140.3" cy="978.67" r="1.9"/><circle cx="2155.32" cy="1014.67" r="1.9"/><circle cx="2170.34" cy="1057.33" r="1.9"/><circle cx="2185.36" cy="1006.33" r="1.9"/><circle cx="2200.38" cy="1011.33" r="1.9"/><circle cx="2215.4" cy="963" r="1.9"/><circle cx="2230.42" cy="1030.33" r="1.9"/><circle cx="2245.44" cy="987" r="1.9"/><circle cx="2260.46" cy="997" r="1.9"/><circle cx="2275.48" cy="942.33" r="1.9"/><circle cx="2290.5" cy="951.33" r="1.9"/><circle cx="2305.52" cy="994" r="1.9"/><circle cx="2320.54" cy="918" r="1.9"/><circle cx="2335.56" cy="914.67" r="1.9"/><circle cx="2350.58" cy="898.33" r="1.9"/><circle cx="2365.6" cy="892" r="1.9"/></g>
<rect x="1419.5" y="802.8" width="991.1" height="543.6" fill="none" stroke="#000" stroke-width="1.4"/>
<path d="M1464.4 1346.4v6.4M1479.42 1346.4v6.4M1494.44 1346.4v6.4M1509.46 1346.4v6.4M1524.48 1346.4v6.4M1539.5 1346.4v6.4M1554.52 1346.4v6.4M1569.54 1346.4v6.4M1584.56 1346.4v6.4M1599.58 1346.4v6.4M1614.6 1346.4v6.4M1629.62 1346.4v6.4M1644.64 1346.4v6.4M1659.66 1346.4v6.4M1674.68 1346.4v6.4M1689.7 1346.4v6.4M1704.72 1346.4v6.4M1719.74 1346.4v6.4M1734.76 1346.4v6.4M1749.78 1346.4v6.4M1764.8 1346.4v6.4M1779.82 1346.4v6.4M1794.84 1346.4v6.4M1809.86 1346.4v6.4M1824.88 1346.4v6.4M1839.9 1346.4v6.4M1854.92 1346.4v6.4M1869.94 1346.4v6.4M1884.96 1346.4v6.4M1899.98 1346.4v6.4M1915 1346.4v6.4M1930.02 1346.4v6.4M1945.04 1346.4v6.4M1960.06 1346.4v6.4M1975.08 1346.4v6.4M1990.1 1346.4v6.4M2005.12 1346.4v6.4M2020.14 1346.4v6.4M2035.16 1346.4v6.4M2050.18 1346.4v6.4M2065.2 1346.4v6.4M2080.22 1346.4v6.4M2095.24 1346.4v6.4M2110.26 1346.4v6.4M2125.28 1346.4v6.4M2140.3 1346.4v6.4M2155.32 1346.4v6.4M2170.34 1346.4v6.4M2185.36 1346.4v6.4M2200.38 1346.4v6.4M2215.4 1346.4v6.4M2230.42 1346.4v6.4M2245.44 1346.4v6.4M2260.46 1346.4v6.4M2275.48 1346.4v6.4M2290.5 1346.4v6.4M2305.52 1346.4v6.4M2320.54 1346.4v6.4M2335.56 1346.4v6.4M2350.58 1346.4v6.4M2365.6 1346.4v6.4" stroke="#000" stroke-width="1.15" fill="none"/>
<text x="1468.6" y="1383.1" font-size="35.3" text-anchor="middle" >1</text>
<text x="1573.74" y="1383.1" font-size="35.3" text-anchor="middle" >8</text>
<text x="1674.68" y="1383.1" font-size="35.3" text-anchor="middle" >15</text>
<text x="1779.82" y="1383.1" font-size="35.3" text-anchor="middle" >22</text>
<text x="1884.96" y="1383.1" font-size="35.3" text-anchor="middle" >29</text>
<text x="1990.1" y="1383.1" font-size="35.3" text-anchor="middle" >36</text>
<text x="2095.24" y="1383.1" font-size="35.3" text-anchor="middle" >43</text>
<text x="2200.38" y="1383.1" font-size="35.3" text-anchor="middle" >50</text>
<text x="2305.52" y="1383.1" font-size="35.3" text-anchor="middle" >57</text>
<path d="M1419.5 850.33h-6.4M1419.5 981.53h-6.4M1419.5 1112.73h-6.4M1419.5 1243.93h-6.4" stroke="#000" stroke-width="1.15" fill="none"/>
<text x="1407.1" y="862.63" font-size="35.3" text-anchor="end" >120</text>
<text x="1407.1" y="993.83" font-size="35.3" text-anchor="end" >100</text>
<text x="1407.1" y="1125.03" font-size="35.3" text-anchor="end" >80</text>
<text x="1407.1" y="1256.23" font-size="35.3" text-anchor="end" >60</text>
<text x="1915.05" y="791.6" font-size="42.3" text-anchor="middle" >Swimming Velocity of 12W and 12R</text>
<text x="1915.65" y="1423.1" font-size="35.3" text-anchor="middle" xml:space="preserve">Time  (Day)</text>
<text transform="translate(1338.4 1355.76) rotate(-90)" font-size="35.3" xml:space="preserve" style="font-kerning:none"><tspan x="2.3">Swimming </tspan><tspan x="168.26">velocity  </tspan><tspan x="299.61">(</tspan><tspan x="310.86">10</tspan><tspan x="345.76" dy="-21.7" font-size="24.7">3</tspan><tspan x="360.41" dy="21.7">Pixels </tspan><tspan x="452.42">/ </tspan><tspan x="467.96">frame)</tspan></text>
<rect x="2296.8" y="746.5" width="195.3" height="111.1" rx="4.5" ry="4.5" fill="#fff" fill-opacity="0.8" stroke="#ccc" stroke-opacity="0.8" stroke-width="1.3"/>
<path d="M2310.6 772.8H2381.2" stroke="#9cc4e8" stroke-width="3.53" stroke-linecap="square" fill="none"/>
<path d="M2310.6 822.6H2381.2" stroke="#ef7f80" stroke-width="3.53" stroke-dasharray="13.06 5.65" fill="none"/>
<circle cx="2345.9" cy="822.6" r="1.9" fill="#ef7f80"/>
<text x="2410.5" y="785.9" font-size="35.3">12W</text>
<text x="2410.5" y="835.6" font-size="35.3">12R</text>
</g>
<g id="R2">
<polyline points="1464.4,1863.99 1479.42,2043.66 1494.44,1728.81 1509.46,1911.56 1524.48,1968.03 1539.5,1923.88 1554.52,1726.07 1569.54,1857.83 1584.56,1670.63 1599.58,1801.36 1614.6,1737.02 1629.62,1810.6 1644.64,1786.64 1659.66,1826 1674.68,1631.27 1689.7,1669.6 1704.72,1713.41 1719.74,1622.37 1734.76,1684.32 1749.78,1638.12 1764.8,1753.11 1779.82,1560.43 1794.84,1622.37 1809.86,1574.46 1824.88,1635.38 1839.9,1564.88 1854.92,1713.41 1869.94,1623.4 1884.96,1677.13 1899.98,1661.05 1915,1717.51 1930.02,1591.57 1945.04,1598.42 1960.06,1631.96 1975.08,1698.01 1990.1,1671.31 2005.12,1743.18 2020.14,1725.04 2035.16,1858.85 2050.18,1896.5 2065.2,1907.45 2080.22,1696.3 2095.24,1647.36 2110.26,1796.23 2125.28,1831.48 2140.3,1772.61 2155.32,1874.94 2170.34,1929.7 2185.36,1971.11 2200.38,1962.21 2215.4,1924.56 2230.42,1922.17 2245.44,1924.56 2260.46,1990.27 2275.48,1958.79 2290.5,1964.26 2305.52,1971.79 2320.54,2009.09 2335.56,1970.76 2350.58,1943.39 2365.6,1880.07" fill="none" stroke="#9cc4e8" stroke-width="3.53" stroke-linejoin="round" stroke-linecap="round"/>
<polyline points="1464.4,1771.67 1479.42,1912.67 1494.44,1760 1509.46,1832 1524.48,1833.33 1539.5,1919.33 1554.52,1776.67 1569.54,1842.67 1584.56,1736 1599.58,1800.33 1614.6,1723.33 1629.62,1754.33 1644.64,1740.33 1659.66,1778.33 1674.68,1744.33 1689.7,1737.67 1704.72,1721.67 1719.74,1688.33 1734.76,1685.33 1749.78,1748.33 1764.8,1792.67 1779.82,1817.67 1794.84,1824.33 1809.86,1731.67 1824.88,1809.33 1839.9,1676 1854.92,1743.33 1869.94,1706 1884.96,1662 1899.98,1817.67 1915,1752.67 1930.02,1705 1945.04,1667.67 1960.06,1776 1975.08,1813.33 1990.1,1782 2005.12,1804.33 2020.14,1741 2035.16,1826 2050.18,1788.67 2065.2,1805 2080.22,1757 2095.24,1736 2110.26,1703.67 2125.28,1761 2140.3,1716 2155.32,1710 2170.34,2034.33 2185.36,1979.33 2200.38,1956 2215.4,1891 2230.42,1936.67 2245.44,2024.33 2260.46,1952 2275.48,1902.67 2290.5,1872.67 2305.52,1972.67 2320.54,1934.33 2335.56,1942.67 2350.58,2055.33 2365.6,1948.67" fill="none" stroke="#ef7f80" stroke-width="3.53" stroke-dasharray="13.06 5.65" stroke-linejoin="round"/>
<g fill="#ef7f80"><circle cx="1464.4" cy="1771.67" r="1.9"/><circle cx="1479.42" cy="1912.67" r="1.9"/><circle cx="1494.44" cy="1760" r="1.9"/><circle cx="1509.46" cy="1832" r="1.9"/><circle cx="1524.48" cy="1833.33" r="1.9"/><circle cx="1539.5" cy="1919.33" r="1.9"/><circle cx="1554.52" cy="1776.67" r="1.9"/><circle cx="1569.54" cy="1842.67" r="1.9"/><circle cx="1584.56" cy="1736" r="1.9"/><circle cx="1599.58" cy="1800.33" r="1.9"/><circle cx="1614.6" cy="1723.33" r="1.9"/><circle cx="1629.62" cy="1754.33" r="1.9"/><circle cx="1644.64" cy="1740.33" r="1.9"/><circle cx="1659.66" cy="1778.33" r="1.9"/><circle cx="1674.68" cy="1744.33" r="1.9"/><circle cx="1689.7" cy="1737.67" r="1.9"/><circle cx="1704.72" cy="1721.67" r="1.9"/><circle cx="1719.74" cy="1688.33" r="1.9"/><circle cx="1734.76" cy="1685.33" r="1.9"/><circle cx="1749.78" cy="1748.33" r="1.9"/><circle cx="1764.8" cy="1792.67" r="1.9"/><circle cx="1779.82" cy="1817.67" r="1.9"/><circle cx="1794.84" cy="1824.33" r="1.9"/><circle cx="1809.86" cy="1731.67" r="1.9"/><circle cx="1824.88" cy="1809.33" r="1.9"/><circle cx="1839.9" cy="1676" r="1.9"/><circle cx="1854.92" cy="1743.33" r="1.9"/><circle cx="1869.94" cy="1706" r="1.9"/><circle cx="1884.96" cy="1662" r="1.9"/><circle cx="1899.98" cy="1817.67" r="1.9"/><circle cx="1915" cy="1752.67" r="1.9"/><circle cx="1930.02" cy="1705" r="1.9"/><circle cx="1945.04" cy="1667.67" r="1.9"/><circle cx="1960.06" cy="1776" r="1.9"/><circle cx="1975.08" cy="1813.33" r="1.9"/><circle cx="1990.1" cy="1782" r="1.9"/><circle cx="2005.12" cy="1804.33" r="1.9"/><circle cx="2020.14" cy="1741" r="1.9"/><circle cx="2035.16" cy="1826" r="1.9"/><circle cx="2050.18" cy="1788.67" r="1.9"/><circle cx="2065.2" cy="1805" r="1.9"/><circle cx="2080.22" cy="1757" r="1.9"/><circle cx="2095.24" cy="1736" r="1.9"/><circle cx="2110.26" cy="1703.67" r="1.9"/><circle cx="2125.28" cy="1761" r="1.9"/><circle cx="2140.3" cy="1716" r="1.9"/><circle cx="2155.32" cy="1710" r="1.9"/><circle cx="2170.34" cy="2034.33" r="1.9"/><circle cx="2185.36" cy="1979.33" r="1.9"/><circle cx="2200.38" cy="1956" r="1.9"/><circle cx="2215.4" cy="1891" r="1.9"/><circle cx="2230.42" cy="1936.67" r="1.9"/><circle cx="2245.44" cy="2024.33" r="1.9"/><circle cx="2260.46" cy="1952" r="1.9"/><circle cx="2275.48" cy="1902.67" r="1.9"/><circle cx="2290.5" cy="1872.67" r="1.9"/><circle cx="2305.52" cy="1972.67" r="1.9"/><circle cx="2320.54" cy="1934.33" r="1.9"/><circle cx="2335.56" cy="1942.67" r="1.9"/><circle cx="2350.58" cy="2055.33" r="1.9"/><circle cx="2365.6" cy="1948.67" r="1.9"/></g>
<rect x="1419.5" y="1535.8" width="991.1" height="543.6" fill="none" stroke="#000" stroke-width="1.4"/>
<path d="M1464.4 2079.4v6.4M1479.42 2079.4v6.4M1494.44 2079.4v6.4M1509.46 2079.4v6.4M1524.48 2079.4v6.4M1539.5 2079.4v6.4M1554.52 2079.4v6.4M1569.54 2079.4v6.4M1584.56 2079.4v6.4M1599.58 2079.4v6.4M1614.6 2079.4v6.4M1629.62 2079.4v6.4M1644.64 2079.4v6.4M1659.66 2079.4v6.4M1674.68 2079.4v6.4M1689.7 2079.4v6.4M1704.72 2079.4v6.4M1719.74 2079.4v6.4M1734.76 2079.4v6.4M1749.78 2079.4v6.4M1764.8 2079.4v6.4M1779.82 2079.4v6.4M1794.84 2079.4v6.4M1809.86 2079.4v6.4M1824.88 2079.4v6.4M1839.9 2079.4v6.4M1854.92 2079.4v6.4M1869.94 2079.4v6.4M1884.96 2079.4v6.4M1899.98 2079.4v6.4M1915 2079.4v6.4M1930.02 2079.4v6.4M1945.04 2079.4v6.4M1960.06 2079.4v6.4M1975.08 2079.4v6.4M1990.1 2079.4v6.4M2005.12 2079.4v6.4M2020.14 2079.4v6.4M2035.16 2079.4v6.4M2050.18 2079.4v6.4M2065.2 2079.4v6.4M2080.22 2079.4v6.4M2095.24 2079.4v6.4M2110.26 2079.4v6.4M2125.28 2079.4v6.4M2140.3 2079.4v6.4M2155.32 2079.4v6.4M2170.34 2079.4v6.4M2185.36 2079.4v6.4M2200.38 2079.4v6.4M2215.4 2079.4v6.4M2230.42 2079.4v6.4M2245.44 2079.4v6.4M2260.46 2079.4v6.4M2275.48 2079.4v6.4M2290.5 2079.4v6.4M2305.52 2079.4v6.4M2320.54 2079.4v6.4M2335.56 2079.4v6.4M2350.58 2079.4v6.4M2365.6 2079.4v6.4" stroke="#000" stroke-width="1.15" fill="none"/>
<text x="1468.6" y="2116.1" font-size="35.3" text-anchor="middle" >1</text>
<text x="1573.74" y="2116.1" font-size="35.3" text-anchor="middle" >8</text>
<text x="1674.68" y="2116.1" font-size="35.3" text-anchor="middle" >15</text>
<text x="1779.82" y="2116.1" font-size="35.3" text-anchor="middle" >22</text>
<text x="1884.96" y="2116.1" font-size="35.3" text-anchor="middle" >29</text>
<text x="1990.1" y="2116.1" font-size="35.3" text-anchor="middle" >36</text>
<text x="2095.24" y="2116.1" font-size="35.3" text-anchor="middle" >43</text>
<text x="2200.38" y="2116.1" font-size="35.3" text-anchor="middle" >50</text>
<text x="2305.52" y="2116.1" font-size="35.3" text-anchor="middle" >57</text>
<path d="M1419.5 1582.33h-6.4M1419.5 1710.57h-6.4M1419.5 1838.8h-6.4M1419.5 1967.03h-6.4" stroke="#000" stroke-width="1.15" fill="none"/>
<text x="1407.1" y="1594.63" font-size="35.3" text-anchor="end" >120</text>
<text x="1407.1" y="1722.87" font-size="35.3" text-anchor="end" >100</text>
<text x="1407.1" y="1851.1" font-size="35.3" text-anchor="end" >80</text>
<text x="1407.1" y="1979.33" font-size="35.3" text-anchor="end" >60</text>
<text x="1915.05" y="1524.6" font-size="42.3" text-anchor="middle" >Swimming Velocity of 12W and T12BR</text>
<text x="1915.65" y="2156.1" font-size="35.3" text-anchor="middle" xml:space="preserve">Time  (Day)</text>
<text transform="translate(1338.4 2088.76) rotate(-90)" font-size="35.3" xml:space="preserve" style="font-kerning:none"><tspan x="2.3">Swimming </tspan><tspan x="168.26">velocity  </tspan><tspan x="299.61">(</tspan><tspan x="310.86">10</tspan><tspan x="345.76" dy="-21.7" font-size="24.7">3</tspan><tspan x="360.41" dy="21.7">Pixels </tspan><tspan x="452.42">/ </tspan><tspan x="467.96">frame)</tspan></text>
<rect x="2261.7" y="1479.5" width="230.4" height="111.1" rx="4.5" ry="4.5" fill="#fff" fill-opacity="0.8" stroke="#ccc" stroke-opacity="0.8" stroke-width="1.3"/>
<path d="M2275.5 1505.8H2346.1" stroke="#9cc4e8" stroke-width="3.53" stroke-linecap="square" fill="none"/>
<path d="M2275.5 1555.6H2346.1" stroke="#ef7f80" stroke-width="3.53" stroke-dasharray="13.06 5.65" fill="none"/>
<circle cx="2310.8" cy="1555.6" r="1.9" fill="#ef7f80"/>
<text x="2375.4" y="1518.9" font-size="35.3">12W</text>
<text x="2375.4" y="1568.6" font-size="35.3">T12BR</text>
</g>
</svg>
</body></html>
